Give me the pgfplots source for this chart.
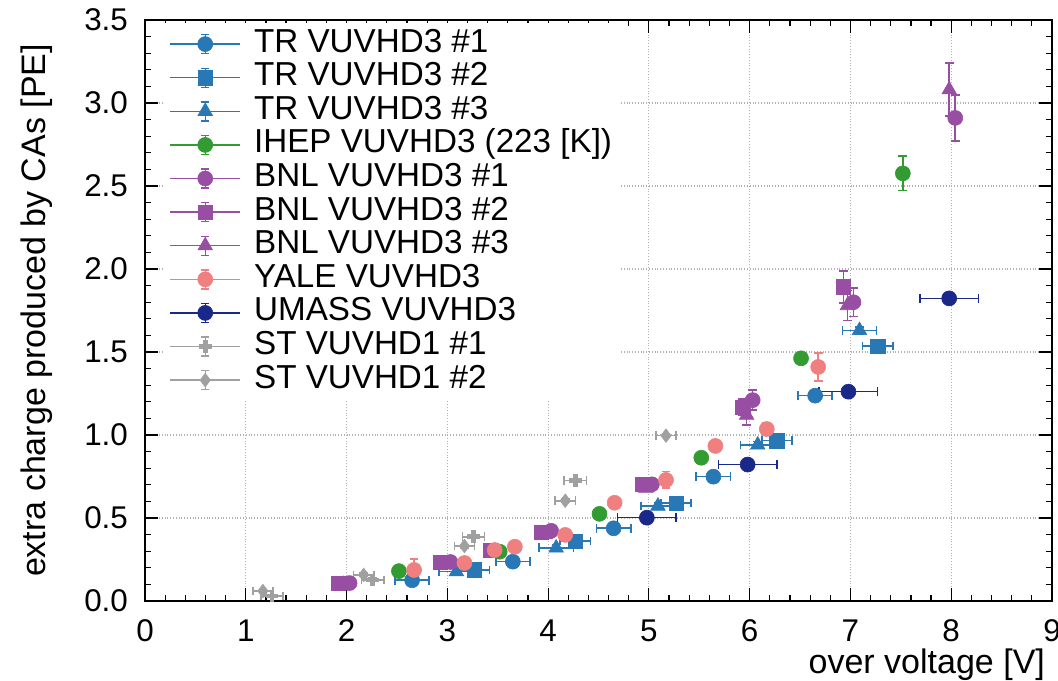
\documentclass[border=0pt]{standalone}
\usepackage{fontspec}
\setmainfont{Liberation Sans}
\usepackage{pgfplots}
\pgfplotsset{compat=1.18}
\definecolor{trblue}{RGB}{40,120,181}
\definecolor{ihepgreen}{RGB}{50,155,50}
\definecolor{bnlpurple}{RGB}{152,78,163}
\definecolor{yalepink}{RGB}{240,128,128}
\definecolor{umassnavy}{RGB}{26,40,137}
\definecolor{stgray}{RGB}{160,160,160}
\newcommand{\fs}{\fontsize{15.7}{18}\selectfont}
\newcommand{\fl}{\fontsize{16.6}{19}\selectfont}
\newcommand{\fx}{\fontsize{17}{20}\selectfont}
\pgfplotsset{
  ser/.style n args={4}{% colour, mark, mark size, extra mark options
    only marks, color=#1, mark=#2, mark size=#3,
    mark options={solid, fill=#1, draw=#1, line width=0.3pt, #4},
    legend image code/.code={
      \draw[#1, solid, line width=0.7pt] (0pt,0pt) -- (35pt,0pt);
      \draw[#1, solid, line width=0.7pt] (17.5pt,-4.75pt) -- (17.5pt,4.75pt);
      \draw[#1, solid, line width=0.7pt] (15.5pt,-4.75pt) -- (19.5pt,-4.75pt) (15.5pt,4.75pt) -- (19.5pt,4.75pt);
      \draw[#1, only marks, mark=#2, mark size=#3, mark options={solid, fill=#1, draw=#1, line width=0.3pt, #4}] plot coordinates {(17.5pt,0pt)};
    },
    error bars/.cd, x dir=both, x explicit, y dir=both, y explicit,
    error bar style={solid, line width=0.8pt, #1},
    error mark options={rotate=90, solid, mark size=2.2pt, line width=0.8pt, #1},
  }
}
\begin{document}
\begin{tikzpicture}
\useasboundingbox (-72.5pt,-39.5pt) rectangle (456.5pt,300.5pt);
\begin{axis}[
  name=ax, at={(0,0)}, anchor=south west,
  scale only axis, width=453.5pt, height=290.5pt,
  xmin=0, xmax=9, ymin=0, ymax=3.5,
  xtick={0,1,2,3,4,5,6,7,8,9},
  ytick={0,0.5,1,1.5,2,2.5,3,3.5},
  minor x tick num=4, minor y tick num=4,
  tick align=inside,
  major tick length=6.5pt, minor tick length=3pt,
  grid=major,
  major grid style={densely dotted, black!30, line width=0.6pt},
  axis line style={line width=1pt},
  every tick/.style={black, line width=0.6pt},
  /pgf/number format/assume math mode=true,
  tick label style={font=\fs},
  xticklabel style={yshift=-6pt},
  yticklabel style={xshift=-5pt, /pgf/number format/.cd, fixed, fixed zerofill, precision=1},
  label style={font=\fx},
  xlabel={over voltage [V]},
  ylabel={extra charge produced by CAs [PE]},
  xlabel style={at={(rel axis cs:1,-0.11)}, anchor=east},
  ylabel style={at={(rel axis cs:-0.119,0.5)}, anchor=center},
  legend cell align=left,
  legend style={at={(rel axis cs:0.02,0.995)}, anchor=north west, draw=none, fill=white,
    font=\fl, row sep=0pt, column sep=6pt,
    nodes={text height=11.8pt, text depth=3.8pt, inner sep=0.6pt}},
]
\addplot[ser={trblue}{*}{3.75pt}{}] coordinates {
 (2.65,0.125) +- (0.17,0.02)
 (3.65,0.237) +- (0.17,0.02)
 (4.65,0.438) +- (0.17,0.02)
 (5.64,0.749) +- (0.17,0.02)
 (6.65,1.237) +- (0.17,0.02)
};
\addlegendentry{TR VUVHD3 \#1}
\addplot[ser={trblue}{square*}{3.6pt}{}] coordinates {
 (3.27,0.187) +- (0.15,0.02)
 (4.27,0.361) +- (0.15,0.02)
 (5.27,0.590) +- (0.15,0.02)
 (6.27,0.966) +- (0.15,0.02)
 (7.27,1.536) +- (0.15,0.02)
};
\addlegendentry{TR VUVHD3 \#2}
\addplot[ser={trblue}{triangle*}{4.2pt}{}] coordinates {
 (3.09,0.177) +- (0.17,0.02)
 (4.08,0.320) +- (0.17,0.02)
 (5.09,0.572) +- (0.17,0.02)
 (6.08,0.940) +- (0.17,0.02)
 (7.09,1.630) +- (0.17,0.02)
};
\addlegendentry{TR VUVHD3 \#3}
\addplot[ser={ihepgreen}{*}{3.75pt}{}] coordinates {
 (2.52,0.180) +- (0,0.01)
 (3.52,0.297) +- (0,0.01)
 (4.51,0.525) +- (0,0.01)
 (5.52,0.863) +- (0,0.01)
 (6.51,1.462) +- (0,0.01)
 (7.52,2.576) +- (0,0.104)
};
\addlegendentry{IHEP VUVHD3 (223 [K])}
\addplot[ser={bnlpurple}{*}{3.75pt}{}] coordinates {
 (2.03,0.108) +- (0,0.01)
 (3.03,0.235) +- (0,0.01)
 (4.03,0.423) +- (0,0.015)
 (5.03,0.703) +- (0,0.02)
 (6.03,1.210) +- (0,0.06)
 (7.03,1.800) +- (0,0.087)
 (8.04,2.910) +- (0,0.14)
};
\addlegendentry{BNL VUVHD3 \#1}
\addplot[ser={bnlpurple}{square*}{3.6pt}{}] coordinates {
 (1.92,0.107) +- (0,0.01)
 (2.93,0.233) +- (0,0.01)
 (3.43,0.307) +- (0,0.01)
 (3.93,0.414) +- (0,0.015)
 (4.94,0.703) +- (0,0.02)
 (5.93,1.167) +- (0,0.05)
 (6.93,1.893) +- (0,0.096)
};
\addlegendentry{BNL VUVHD3 \#2}
\addplot[ser={bnlpurple}{triangle*}{4.2pt}{}] coordinates {
 (1.97,0.100) +- (0,0.01)
 (2.97,0.220) +- (0,0.01)
 (3.47,0.300) +- (0,0.01)
 (3.97,0.400) +- (0,0.015)
 (4.97,0.680) +- (0,0.02)
 (5.97,1.120) +- (0,0.06)
 (6.97,1.780) +- (0,0.09)
 (7.98,3.080) +- (0,0.16)
};
\addlegendentry{BNL VUVHD3 \#3}
\addplot[ser={yalepink}{*}{3.75pt}{}] coordinates {
 (2.67,0.187) +- (0.05,0.065)
 (3.17,0.229) +- (0.05,0.03)
 (3.47,0.307) +- (0.05,0.02)
 (3.67,0.327) +- (0.05,0.02)
 (4.17,0.398) +- (0.05,0.02)
 (4.66,0.592) +- (0.05,0.03)
 (5.17,0.729) +- (0.05,0.05)
 (5.66,0.934) +- (0.05,0.03)
 (6.17,1.036) +- (0.05,0.04)
 (6.68,1.410) +- (0.05,0.084)
};
\addlegendentry{YALE VUVHD3}
\addplot[ser={umassnavy}{*}{3.75pt}{}] coordinates {
 (4.98,0.502) +- (0.29,0.01)
 (5.98,0.822) +- (0.29,0.01)
 (6.98,1.261) +- (0.29,0.01)
 (7.98,1.823) +- (0.29,0.01)
};
\addlegendentry{UMASS VUVHD3}
\addplot[ser={stgray}{+}{3.2pt}{line width=2.4pt}] coordinates {
 (1.26,0.030) +- (0.11,0.01)
 (2.26,0.127) +- (0.11,0.01)
 (3.26,0.387) +- (0.11,0.01)
 (4.27,0.725) +- (0.11,0.01)
};
\addlegendentry{ST VUVHD1 \#1}
\addplot[ser={stgray}{diamond*}{3.4pt}{}] coordinates {
 (1.17,0.060) +- (0.10,0.01)
 (2.17,0.157) +- (0.10,0.01)
 (3.17,0.331) +- (0.10,0.01)
 (4.17,0.604) +- (0.10,0.01)
 (5.17,0.996) +- (0.10,0.01)
};
\addlegendentry{ST VUVHD1 \#2}
\end{axis}
\end{tikzpicture}
\end{document}
